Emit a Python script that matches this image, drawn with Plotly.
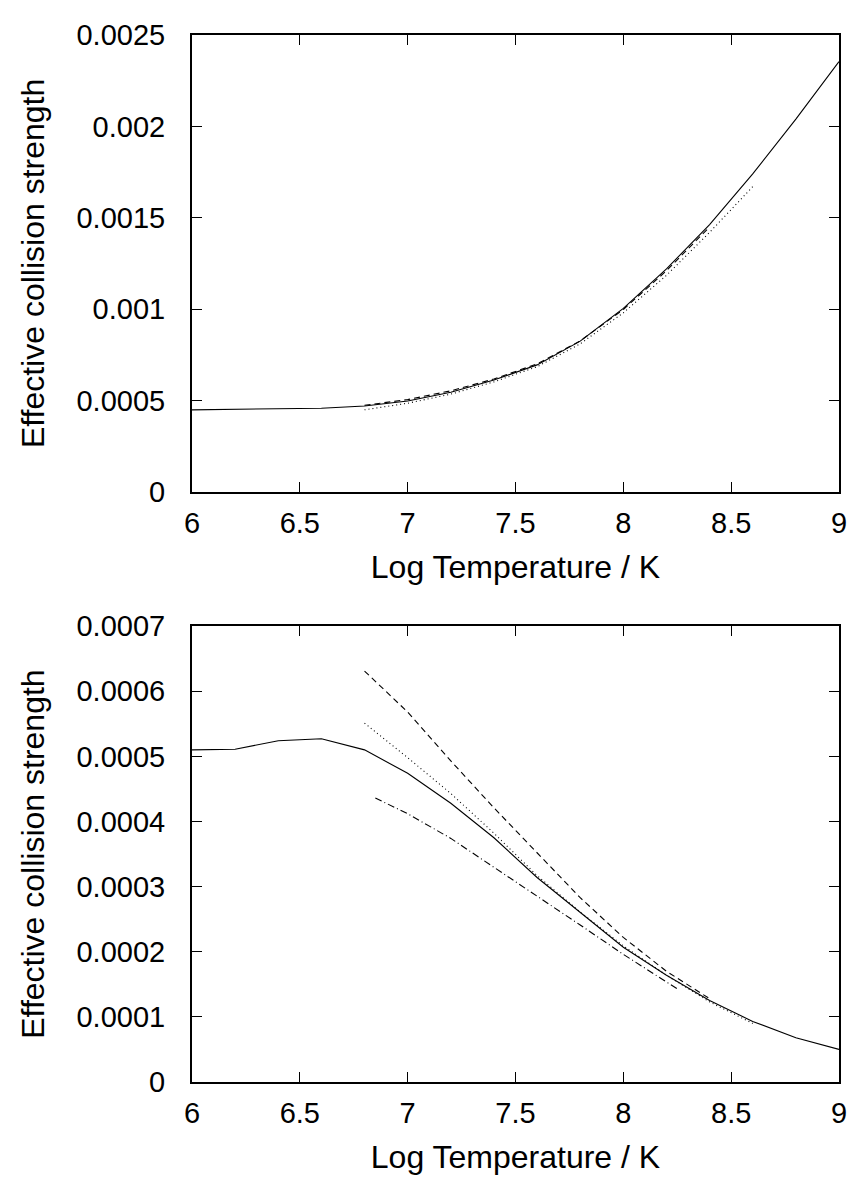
import plotly.graph_objects as go

# ---------------- data ----------------
# Top panel
top_x_solid = [6.0, 6.2, 6.4, 6.6, 6.8, 7.0, 7.2, 7.4, 7.6, 7.8, 8.0, 8.2, 8.4, 8.6, 8.8, 9.0]
top_y_solid = [0.000449, 0.000451, 0.000454, 0.000458, 0.000470, 0.000497, 0.000545, 0.000612,
               0.000695, 0.000825, 0.001004, 0.001220, 0.001463, 0.001740, 0.002040, 0.002354]
top_x_dashed = [6.8, 7.0, 7.2, 7.4, 7.6, 7.8, 8.0, 8.2, 8.4]
top_y_dashed = [0.000474, 0.000505, 0.000553, 0.000618, 0.000700, 0.000826, 0.000998, 0.001210, 0.001450]
top_x_dotted = [6.8, 7.0, 7.2, 7.4, 7.6, 7.8, 8.0, 8.2, 8.4, 8.6]
top_y_dotted = [0.000449, 0.000485, 0.000535, 0.000602, 0.000685, 0.000810, 0.000980, 0.001185, 0.001420, 0.001670]

# Bottom panel
bot_x_solid = [6.0, 6.2, 6.4, 6.6, 6.8, 7.0, 7.2, 7.4, 7.6, 7.8, 8.0, 8.2, 8.4, 8.6, 8.8, 9.0]
bot_y_solid = [0.000510, 0.000511, 0.000524, 0.000527, 0.000510, 0.000474, 0.000428, 0.000375,
               0.000314, 0.000260, 0.000207, 0.000164, 0.000125, 0.000093, 0.000068, 0.000050]
bot_x_dashed = [6.8, 7.0, 7.2, 7.4, 7.6, 7.8, 8.0, 8.2, 8.4]
bot_y_dashed = [0.000631, 0.000568, 0.000493, 0.000421, 0.000352, 0.000283, 0.000222, 0.000170, 0.000128]
bot_x_dotted = [6.8, 7.0, 7.2, 7.4, 7.6, 7.8, 8.0, 8.2, 8.4, 8.6]
bot_y_dotted = [0.000551, 0.000498, 0.000443, 0.000382, 0.000317, 0.000261, 0.000209, 0.000164, 0.000123, 0.000090]
bot_x_dashdot = [6.85, 7.0, 7.2, 7.4, 7.6, 7.8, 8.0, 8.25]
bot_y_dashdot = [0.000436, 0.000412, 0.000374, 0.000330, 0.000285, 0.000241, 0.000196, 0.000143]

x_tickvals = [6, 6.5, 7, 7.5, 8, 8.5, 9]
x_ticktext = ["6", "6.5", "7", "7.5", "8", "8.5", "9"]
top_tickvals = [0, 0.0005, 0.001, 0.0015, 0.002, 0.0025]
top_ticktext = ["0", "0.0005", "0.001", "0.0015", "0.002", "0.0025"]
bot_tickvals = [0, 0.0001, 0.0002, 0.0003, 0.0004, 0.0005, 0.0006, 0.0007]
bot_ticktext = ["0", "0.0001", "0.0002", "0.0003", "0.0004", "0.0005", "0.0006", "0.0007"]

x_title = "Log Temperature / K"
y_title = "Effective collision strength"

# ---------------- figure ----------------
FONT = "Liberation Sans, Arial, sans-serif"
FS = 29
FS_T = 32
LW = 1.1

fig = go.Figure()

def add(x, y, dash, xa, ya):
    fig.add_trace(go.Scatter(x=x, y=y, mode="lines", xaxis=xa, yaxis=ya,
                             line=dict(color="black", width=LW, dash=dash),
                             showlegend=False, hoverinfo="skip"))

add(top_x_solid, top_y_solid, "solid", "x", "y")
add(top_x_dashed, top_y_dashed, "6px,4px", "x", "y")
add(top_x_dotted, top_y_dotted, "1px,3px", "x", "y")

add(bot_x_solid, bot_y_solid, "solid", "x2", "y2")
add(bot_x_dashed, bot_y_dashed, "6px,4px", "x2", "y2")
add(bot_x_dotted, bot_y_dotted, "1px,3px", "x2", "y2")
add(bot_x_dashdot, bot_y_dashdot, "7px,3px,1px,3px", "x2", "y2")

axis_common = dict(showline=True, linecolor="black", linewidth=2, mirror="ticks",
                   ticks="inside", ticklen=10, tickwidth=1.3, tickcolor="black",
                   showgrid=False, zeroline=False,
                   tickfont=dict(family=FONT, size=FS, color="black"))

# page body has an 8px default margin, so the figure is 8px smaller
W, H = 850, 1172
ml, mr, mt, mb = 184, 11, 15, 96
ph = H - mt - mb
top_dom = [(1084 - 486) / ph, 1.0]
bot_dom = [0.0, (1084 - 622) / ph]

fig.update_layout(
    width=W, height=H,
    margin=dict(l=ml, r=mr, t=mt, b=mb),
    paper_bgcolor="white", plot_bgcolor="white",
    font=dict(family=FONT, size=FS, color="black"),
    xaxis=dict(domain=[0, 1], anchor="y", range=[6, 9], tickvals=x_tickvals, ticktext=x_ticktext,
               ticklabelstandoff=4,
               title=dict(text=x_title, font=dict(family=FONT, size=FS_T), standoff=18), **axis_common),
    yaxis=dict(domain=top_dom, anchor="x", range=[0, 0.0025], tickvals=top_tickvals, ticktext=top_ticktext,
               ticklabelstandoff=19,
               title=dict(text=y_title, font=dict(family=FONT, size=FS_T), standoff=22), **axis_common),
    xaxis2=dict(domain=[0, 1], anchor="y2", range=[6, 9], tickvals=x_tickvals, ticktext=x_ticktext,
                ticklabelstandoff=4,
                title=dict(text=x_title, font=dict(family=FONT, size=FS_T), standoff=18), **axis_common),
    yaxis2=dict(domain=bot_dom, anchor="x2", range=[0, 0.0007], tickvals=bot_tickvals, ticktext=bot_ticktext,
                ticklabelstandoff=19,
                title=dict(text=y_title, font=dict(family=FONT, size=FS_T), standoff=22), **axis_common),
)

fig.write_html("out.html")
